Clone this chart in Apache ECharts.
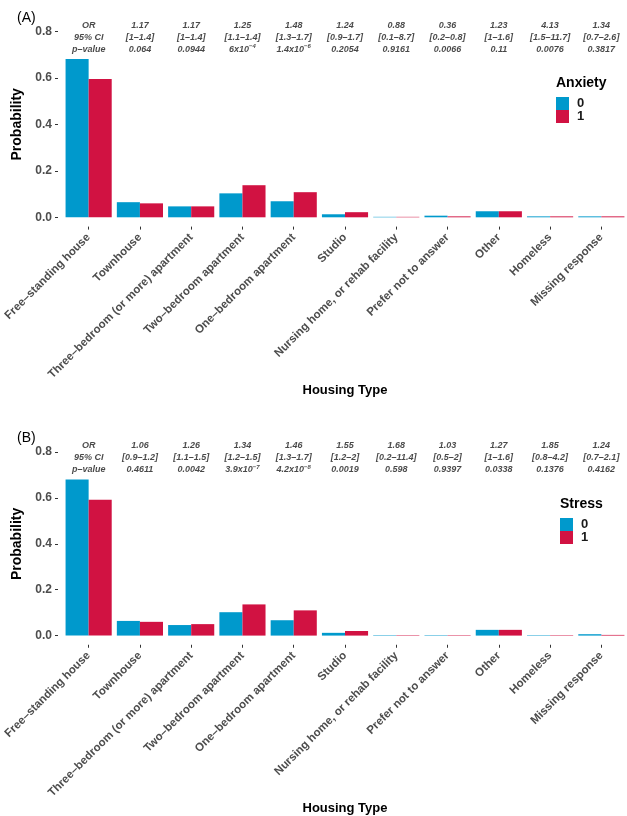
<!doctype html>
<html>
<head>
<meta charset="utf-8">
<title>Housing type</title>
<script src="https://cdn.jsdelivr.net/npm/echarts@6/dist/echarts.min.js"></script>
<style>
  html, body { margin: 0; padding: 0; background: #fff; }
  #main { width: 627px; height: 816px; }
</style>
</head>
<body>
<div id="main"></div>
<script>
var categories = ['Free–standing house', 'Townhouse', 'Three–bedroom (or more) apartment',
  'Two–bedroom apartment', 'One–bedroom apartment', 'Studio',
  'Nursing home, or rehab facility', 'Prefer not to answer', 'Other', 'Homeless', 'Missing response'];

// panel A - anxiety
var anxiety0 = [0.681, 0.065, 0.047, 0.103, 0.069, 0.013, 0.002, 0.007, 0.026, 0.004, 0.004];
var anxiety1 = [0.595, 0.060, 0.047, 0.138, 0.108, 0.022, 0.002, 0.004, 0.026, 0.004, 0.004];
var orA = ['OR', '1.17', '1.17', '1.25', '1.48', '1.24', '0.88', '0.36', '1.23', '4.13', '1.34'];
var ciA = ['95% CI', '[1–1.4]', '[1–1.4]', '[1.1–1.4]', '[1.3–1.7]', '[0.9–1.7]', '[0.1–8.7]', '[0.2–0.8]', '[1–1.6]', '[1.5–11.7]', '[0.7–2.6]'];
var pA = ['p–value', '0.064', '0.0944', '6x10^−4', '1.4x10^−6', '0.2054', '0.9161', '0.0066', '0.11', '0.0076', '0.3817'];

// panel B - stress
var stress0 = [0.681, 0.064, 0.046, 0.102, 0.067, 0.012, 0.002, 0.002, 0.025, 0.002, 0.006];
var stress1 = [0.592, 0.060, 0.050, 0.136, 0.110, 0.020, 0.002, 0.002, 0.025, 0.002, 0.003];
var orB = ['OR', '1.06', '1.26', '1.34', '1.46', '1.55', '1.68', '1.03', '1.27', '1.85', '1.24'];
var ciB = ['95% CI', '[0.9–1.2]', '[1.1–1.5]', '[1.2–1.5]', '[1.3–1.7]', '[1.2–2]', '[0.2–11.4]', '[0.5–2]', '[1–1.6]', '[0.8–4.2]', '[0.7–2.1]'];
var pB = ['p–value', '0.4611', '0.0042', '3.9x10^−7', '4.2x10^−8', '0.0019', '0.598', '0.9397', '0.0338', '0.1376', '0.4162'];

var yTicks = [0, 0.2, 0.4, 0.6, 0.8];
var annotY = 0.775;

var blue = '#0099cc';
var red = '#d11242';
var grey = '#4d4d4d';

var chart = echarts.init(document.getElementById('main'));

function xAxisFor(idx) {
  return {
    type: 'category',
    gridIndex: idx,
    data: categories,
    name: 'Housing Type',
    nameLocation: 'middle',
    nameGap: 154,
    nameTextStyle: { fontSize: 13, fontWeight: 'bold', color: '#000' },
    axisLine: { show: false, onZero: false },
    axisTick: { show: true, alignWithLabel: true, length: 3, lineStyle: { color: '#333' } },
    axisLabel: { interval: 0, rotate: 45, margin: 9, fontSize: 11.5, fontWeight: 'bold', color: grey },
    splitLine: { show: false }
  };
}

function yAxisFor(idx) {
  return {
    type: 'value',
    gridIndex: idx,
    min: -0.04,
    max: 0.84,
    offset: 5,
    name: 'Probability',
    nameLocation: 'middle',
    nameGap: 26,
    nameTextStyle: { fontSize: 14, fontWeight: 'bold', color: '#000' },
    axisLine: { show: false },
    axisTick: { show: true, length: 3, customValues: yTicks, lineStyle: { color: '#333' } },
    axisLabel: {
      customValues: yTicks, margin: 6, fontSize: 12, fontWeight: 'bold', color: grey,
      formatter: function (v) { return v.toFixed(1); }
    },
    splitLine: { show: false }
  };
}

function barSeries(name, data, color, idx) {
  return {
    name: name,
    type: 'bar',
    xAxisIndex: idx,
    yAxisIndex: idx,
    data: data,
    barGap: '0%',
    barCategoryGap: '10%',
    itemStyle: { color: color },
    silent: true
  };
}

// "a^b" -> rich text with a small raised exponent
function supText(s) {
  var k = s.indexOf('^');
  if (k < 0) return '{t|' + s + '}';
  return '{t|' + s.slice(0, k) + '}{sup|' + s.slice(k + 1) + '}';
}

function annotSeries(idx, ors, cis, ps) {
  return {
    name: 'annot' + idx,
    type: 'scatter',
    xAxisIndex: idx,
    yAxisIndex: idx,
    symbolSize: 1,
    itemStyle: { color: 'rgba(0,0,0,0)' },
    silent: true,
    data: categories.map(function (c, i) { return [i, annotY]; }),
    label: {
      show: true,
      position: 'inside',
      fontSize: 9,
      fontStyle: 'italic',
      fontWeight: 'bold',
      lineHeight: 12,
      color: '#1a1a1a',
      rich: {
        t: { fontSize: 9, fontStyle: 'italic', fontWeight: 'bold', lineHeight: 12, color: '#1a1a1a' },
        sup: { fontSize: 6, fontStyle: 'italic', fontWeight: 'bold', lineHeight: 12, verticalAlign: 'top', color: '#1a1a1a' }
      },
      formatter: function (p) {
        var i = p.dataIndex;
        return '{t|' + ors[i] + '}\n{t|' + cis[i] + '}\n' + supText(ps[i]);
      }
    }
  };
}

function legendFor(left, top) {
  return {
    left: left,
    top: top,
    padding: 0,
    orient: 'vertical',
    icon: 'rect',
    itemWidth: 13,
    itemHeight: 13,
    itemGap: 0,
    selectedMode: false,
    data: ['0', '1'],
    textStyle: { fontSize: 13, fontWeight: 'bold', color: '#1a1a1a', lineHeight: 13, padding: [0, 0, 0, 3] }
  };
}

var option = {
  animation: false,
  backgroundColor: '#fff',
  textStyle: { fontFamily: 'Liberation Sans, Arial, sans-serif' },
  title: [
    { text: '(A)', left: 17, top: 11, padding: 0, textStyle: { fontSize: 14, fontWeight: 'normal', color: '#000' } },
    { text: 'Anxiety', left: 556, top: 76, padding: 0, textStyle: { fontSize: 14, fontWeight: 'bold', color: '#000' } },
    { text: '(B)', left: 17, top: 431, padding: 0, textStyle: { fontSize: 14, fontWeight: 'normal', color: '#000' } },
    { text: 'Stress', left: 560, top: 497, padding: 0, textStyle: { fontSize: 14, fontWeight: 'bold', color: '#000' } }
  ],
  legend: [legendFor(556, 97), legendFor(560, 518)],
  grid: [
    { left: 63, top: 22, width: 572, height: 204.6 },
    { left: 63, top: 443, width: 572, height: 204.6 }
  ],
  xAxis: [xAxisFor(0), xAxisFor(1)],
  yAxis: [yAxisFor(0), yAxisFor(1)],
  series: [
    barSeries('0', anxiety0, blue, 0),
    barSeries('1', anxiety1, red, 0),
    annotSeries(0, orA, ciA, pA),
    barSeries('0', stress0, blue, 1),
    barSeries('1', stress1, red, 1),
    annotSeries(1, orB, ciB, pB)
  ]
};

chart.setOption(option);
</script>
</body>
</html>
